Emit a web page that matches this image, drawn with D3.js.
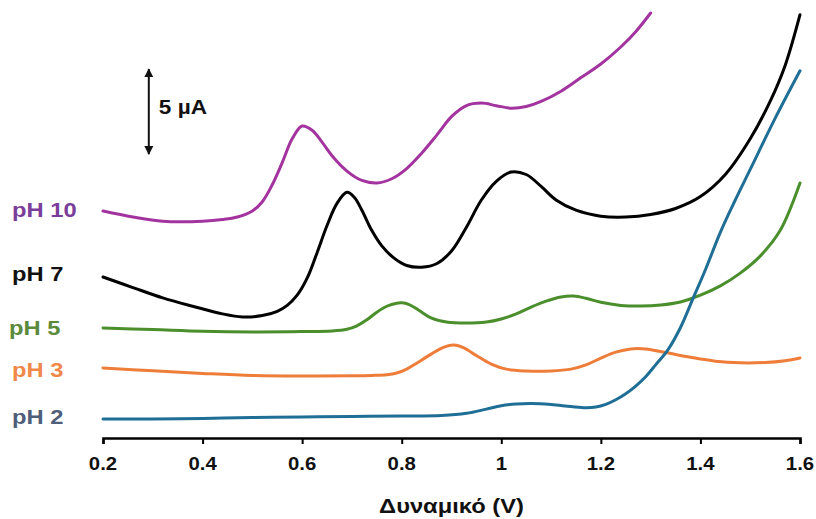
<!DOCTYPE html>
<html>
<head>
<meta charset="utf-8">
<script src="https://cdn.jsdelivr.net/npm/d3@7"></script>
<style>
  html, body { margin: 0; padding: 0; background: #fff; }
  svg { display: block; }
  text { font-family: "Liberation Sans", Arial, sans-serif; font-weight: bold; }
</style>
</head>
<body>
<div id="chart"></div>
<script>
// Stacked voltammograms: potential (V) vs current (µA, offset per pH)
const xTicks = [0.2, 0.4, 0.6, 0.8, 1.0, 1.2, 1.4, 1.6];
const xTitle = "Δυναμικό (V)";
const scaleBarLabel = "5 µA";
const scaleBarValue = 5;

const pH2 = [
  [0.20, 1.12], [0.30, 1.12], [0.40, 1.15], [0.50, 1.20], [0.60, 1.24],
  [0.70, 1.27], [0.80, 1.29], [0.88, 1.32], [0.93, 1.45], [0.97, 1.70],
  [1.00, 1.90], [1.03, 2.00], [1.06, 2.03], [1.10, 1.97], [1.14, 1.85],
  [1.17, 1.78], [1.19, 1.82], [1.21, 1.98], [1.23, 2.25], [1.25, 2.60],
  [1.27, 3.05], [1.29, 3.60], [1.31, 4.30], [1.335, 5.20], [1.36, 6.50],
  [1.385, 8.20], [1.41, 9.90], [1.44, 12.1], [1.47, 14.0], [1.50, 15.8],
  [1.55, 18.8], [1.60, 21.6]
];
const pH3 = [
  [0.20, 4.12], [0.30, 3.95], [0.40, 3.80], [0.50, 3.68], [0.60, 3.65],
  [0.70, 3.66], [0.74, 3.68], [0.77, 3.72], [0.79, 3.82], [0.81, 4.05],
  [0.83, 4.40], [0.86, 4.95], [0.885, 5.35], [0.905, 5.47], [0.925, 5.30],
  [0.95, 4.85], [0.98, 4.35], [1.01, 4.05], [1.05, 3.94], [1.10, 3.94],
  [1.14, 4.05], [1.17, 4.30], [1.20, 4.70], [1.23, 5.05], [1.26, 5.24],
  [1.29, 5.24], [1.33, 5.03], [1.38, 4.75], [1.43, 4.52], [1.48, 4.42],
  [1.53, 4.44], [1.57, 4.55], [1.60, 4.71]
];
const pH5 = [
  [0.20, 6.47], [0.30, 6.38], [0.40, 6.28], [0.50, 6.24], [0.60, 6.26],
  [0.66, 6.30], [0.69, 6.40], [0.71, 6.60], [0.73, 6.95], [0.75, 7.40],
  [0.77, 7.75], [0.79, 7.93], [0.80, 7.95], [0.815, 7.85], [0.835, 7.50],
  [0.86, 7.05], [0.89, 6.82], [0.93, 6.76], [0.97, 6.82], [1.00, 7.00],
  [1.03, 7.30], [1.06, 7.70], [1.09, 8.05], [1.12, 8.30], [1.145, 8.35],
  [1.17, 8.22], [1.20, 7.98], [1.24, 7.80], [1.28, 7.76], [1.32, 7.82],
  [1.36, 8.00], [1.40, 8.40], [1.44, 8.95], [1.48, 9.70], [1.52, 10.7],
  [1.56, 12.2], [1.60, 15.0]
];
const pH7 = [
  [0.20, 9.47], [0.26, 8.85], [0.32, 8.24], [0.38, 7.75], [0.44, 7.30],
  [0.48, 7.12], [0.52, 7.20], [0.55, 7.45], [0.57, 7.80], [0.59, 8.40],
  [0.61, 9.40], [0.63, 10.9], [0.65, 12.5], [0.67, 13.8], [0.69, 14.45],
  [0.705, 14.15], [0.72, 13.4], [0.74, 12.2], [0.76, 11.3], [0.786, 10.55],
  [0.81, 10.15], [0.84, 10.05], [0.87, 10.25], [0.90, 11.0], [0.93, 12.4],
  [0.96, 14.0], [0.99, 15.1], [1.02, 15.65], [1.05, 15.5], [1.08, 14.8],
  [1.11, 14.0], [1.15, 13.4], [1.20, 13.05], [1.25, 13.0], [1.30, 13.15],
  [1.35, 13.5], [1.40, 14.2], [1.45, 15.5], [1.50, 17.6], [1.54, 19.8],
  [1.57, 21.9], [1.60, 24.9]
];
const pH10 = [
  [0.20, 13.35], [0.26, 13.0], [0.32, 12.75], [0.40, 12.75], [0.44, 12.85],
  [0.47, 13.0], [0.50, 13.35], [0.52, 13.9], [0.54, 14.9], [0.56, 16.2],
  [0.58, 17.6], [0.60, 18.35], [0.62, 18.1], [0.64, 17.4], [0.66, 16.6],
  [0.69, 15.7], [0.72, 15.15], [0.75, 15.0], [0.78, 15.25], [0.81, 15.85],
  [0.84, 16.75], [0.87, 17.8], [0.90, 18.9], [0.93, 19.55], [0.96, 19.7],
  [0.99, 19.55], [1.02, 19.4], [1.05, 19.5], [1.08, 19.8], [1.12, 20.4],
  [1.16, 21.2], [1.20, 22.0], [1.24, 23.0], [1.27, 23.9], [1.30, 25.0]
];

const seriesNames = ["pH 10", "pH 7", "pH 5", "pH 3", "pH 2"];
const seriesData = [pH10, pH7, pH5, pH3, pH2];
const lineColors = ["#a3349f", "#000000", "#4a8f2c", "#ee7d3a", "#1f6e96"];
const labelColors = ["#7a3e9a", "#111111", "#5b8a3a", "#f0884a", "#4f5f7a"];
const labelPos = [[12, 217], [12, 281], [9, 335], [12, 377], [12, 424]];

const W = 816, H = 519;
const svg = d3.select("#chart").append("svg").attr("width", W).attr("height", H);

const x = d3.scaleLinear().domain([0.2, 1.6]).range([103, 800]);
const y = d3.scaleLinear().domain([0, 25]).range([438, 13]);

// stretched bold text helper
const sx = 1.13;
function label(txt, px, py, size, color, anchor) {
  svg.append("text")
    .attr("transform", `translate(${px},${py}) scale(${sx},1)`)
    .attr("text-anchor", anchor || "start")
    .attr("font-size", size)
    .attr("fill", color)
    .text(txt);
}

// x axis
const fmt = d => d === 1 ? "1" : d3.format(".1f")(d);
const axis = d3.axisBottom(x)
  .tickValues(xTicks)
  .tickSize(6)
  .tickSizeOuter(6)
  .tickFormat(fmt);
const gx = svg.append("g").attr("transform", `translate(0,${y(0)})`).call(axis);
gx.select(".domain").attr("stroke", "#000").attr("stroke-width", 2.5);
gx.selectAll(".tick line").attr("stroke", "#000").attr("stroke-width", 2);
gx.selectAll(".tick text").remove();
xTicks.forEach(t => label(fmt(t), x(t), 470, 18, "#111", "middle"));

label(xTitle, (x(0.2) + x(1.6)) / 2, 513, 21, "#111", "middle");

// curves
const line = d3.line()
  .x(d => x(d[0]))
  .y(d => y(d[1]))
  .curve(d3.curveCatmullRom.alpha(0.5));

seriesData.forEach((s, i) => {
  svg.append("path")
    .datum(s)
    .attr("fill", "none")
    .attr("stroke", lineColors[i])
    .attr("stroke-width", 3)
    .attr("stroke-linejoin", "round")
    .attr("stroke-linecap", "round")
    .attr("d", line);
});

// series labels
seriesNames.forEach((n, i) => label(n, labelPos[i][0], labelPos[i][1], 21, labelColors[i]));

// scale bar (double-headed arrow)
const defs = svg.append("defs");
defs.append("marker")
  .attr("id", "head")
  .attr("viewBox", "0 0 10 10")
  .attr("refX", 9).attr("refY", 5)
  .attr("markerWidth", 4.5).attr("markerHeight", 5.5)
  .attr("markerUnits", "strokeWidth")
  .attr("orient", "auto-start-reverse")
  .append("path").attr("d", "M0,0 L10,5 L0,10 Z").attr("fill", "#111");

const barX = x(0.292);
const barTop = 21.7;
svg.append("line")
  .attr("x1", barX).attr("x2", barX)
  .attr("y1", y(barTop)).attr("y2", y(barTop - scaleBarValue))
  .attr("stroke", "#111").attr("stroke-width", 2)
  .attr("marker-start", "url(#head)")
  .attr("marker-end", "url(#head)");
label(scaleBarLabel, barX + 10, 114, 20, "#111");
</script>
</body>
</html>
